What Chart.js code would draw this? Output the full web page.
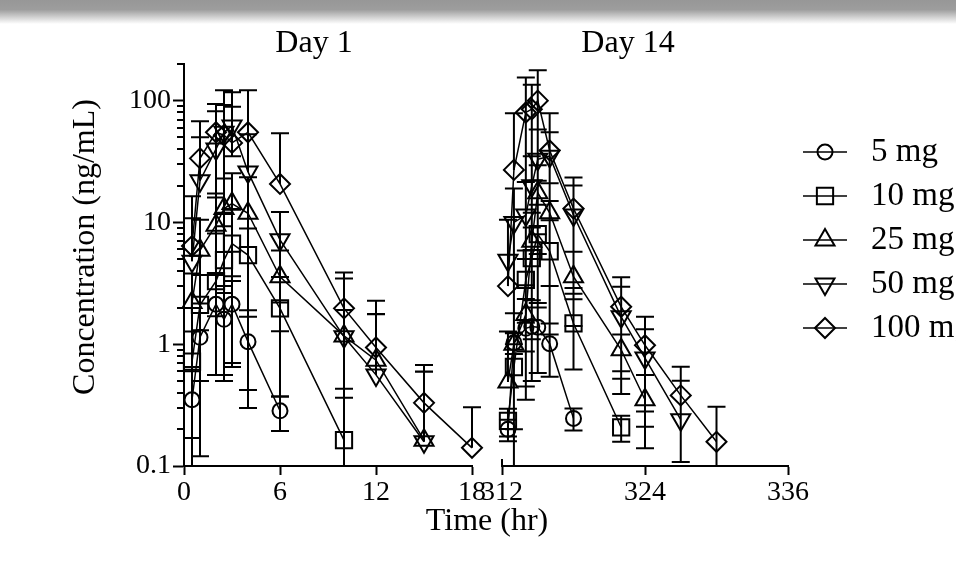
<!DOCTYPE html>
<html>
<head>
<meta charset="utf-8">
<title>Plasma concentration – Day 1 / Day 14</title>
<script src="https://cdn.jsdelivr.net/npm/chart.js@4.4.1/dist/chart.umd.min.js"></script>
<style>
  html, body { margin: 0; padding: 0; background: #fff; }
  body { position: relative; width: 956px; height: 562px; overflow: hidden;
         font-family: 'Liberation Serif', 'Times New Roman', serif; color: #000; }
  .top-shade { position: absolute; left: 0; top: 0; width: 956px; height: 24px;
               background: linear-gradient(#979797 0%, #9d9d9d 40%, #ffffff 100%); }
  .panel { position: absolute; top: 0; height: 562px; }
  #panel-d1  { left: 0;     width: 500px; }
  #panel-d14 { left: 480px; width: 476px; }
  .x-title { position: absolute; left: 287px; width: 400px; top: 501px;
             text-align: center; font-size: 32px; }
</style>
</head>
<body>
<div class="top-shade"></div>
<div class="panel" id="panel-d1"><canvas id="d1"></canvas></div>
<div class="panel" id="panel-d14"><canvas id="d14"></canvas></div>
<div class="x-title">Time (hr)</div>

<script>
/* ── Data (mean ± SD, ng/mL) ───────────────────────────────────────────── */
const DOSES = ['5 mg', '10 mg', '25 mg', '50 mg', '100 mg'];

const DAY1_HR  = [0.5, 1, 2, 2.5, 3, 4, 6, 10, 12, 15, 18];
const DAY14_HR = [312.5, 313, 314, 314.5, 315, 316, 318, 322, 324, 327, 330];

// Day 1
const d1Mean5    = [0.35, 1.14, 2.13, 1.6, 2.13, 1.05, 0.284, null, null, null, null];
const d1Sd5      = [0.3, 1.02, 1.57, 1.04, 1.48, 0.63, 0.09, null, null, null, null];
const d1Mean10   = [0.72, 2.1, 3.3, 4.9, 6.7, 5.4, 1.97, 0.163, null, null, null];
const d1Sd10     = [0.55, 1.6, 4.8, 4.4, 6.0, 3.5, 1.6, 0.2, null, null, null];
const d1Mean25   = [2.2, 5.9, 9.5, 13, 14.3, 11.9, 3.58, 1.17, 0.74, 0.163, null];
const d1Sd25     = [1.6, 4.6, 7.8, 10, 11, 11.6, 2.3, 0.74, 1.03, 0.43, null];
const d1Mean50   = [4.8, 22, 40, 55, 62, 26, 7.2, 1.15, 0.56, 0.158, null];
const d1Sd50     = [6, 28, 42, 67, 27, 27, 5.0, 2.32, 1.2, 0.44, null];
const d1Mean100  = [6.4, 33.6, 55, 52, 45, 55, 20.7, 1.97, 0.94, 0.33, 0.141];
const d1Sd100    = [10, 34, 39, 40, 72, 67, 33.2, 1.92, 1.34, 0.344, 0.162];

// Day 14
const d14Mean5   = [0.2, 1.03, 1.35, 1.4, 1.38, 1.01, 0.246, null, null, null, null];
const d14Sd5     = [0.04, 0.2, 1.0, 0.9, 0.8, 0.47, 0.05, null, null, null, null];
const d14Mean10  = [0.235, 0.65, 3.37, 5.1, 8.0, 5.8, 1.48, 0.208, null, null, null];
const d14Sd10    = [0.06, 0.6, 2.5, 4.0, 6.0, 4.6, 0.86, 0.05, null, null, null];
const d14Mean25  = [0.49, 1.0, 1.75, 7.0, 17.5, 12, 3.58, 0.9, 0.35, null, null];
const d14Sd25    = [0.78, 0.8, 1.3, 5.0, 12, 9.0, 2.17, 0.3, 0.21, null, null];
const d14Mean50  = [4.9, 10, 11.5, 20, 33, 35, 11.5, 1.68, 0.77, 0.24, null];
const d14Sd50    = [5.6, 9, 10, 15, 25, 20, 8.6, 1.29, 0.56, 0.262, null];
const d14Mean100 = [3.0, 27, 80, 85, 100, 39, 13, 2.03, 0.98, 0.38, 0.158];
const d14Sd100   = [7.5, 52, 75, 50, 78, 40, 10.4, 1.51, 0.7, 0.272, 0.149];

// Axes
const Y_TICKS   = [0.1, 1, 10, 100];
const Y_LABELS  = ['0.1', '1', '10', '100'];
const Y_MIN = 0.1, Y_MAX = 200;
const X1_TICKS  = [0, 6, 12, 18];
const X14_TICKS = [312, 324, 336];

/* ── Look ──────────────────────────────────────────────────────────────── */
const FONT = "'Liberation Serif', 'Times New Roman', serif";
const MARKERS = [
  { pointStyle: 'circle',   radius: 7.5,  rotation: 0 },
  { pointStyle: 'rect',     radius: 11.5, rotation: 0 },
  { pointStyle: 'triangle', radius: 11,   rotation: 0 },
  { pointStyle: 'triangle', radius: 11,   rotation: 180 },
  { pointStyle: 'rectRot',  radius: 10,   rotation: 0 },
];

Chart.defaults.font.family = FONT;
Chart.defaults.color = '#000';

// minor log ticks 2..9 per decade
const Y_MINOR = Y_TICKS.flatMap(d => [2, 3, 4, 5, 6, 7, 8, 9].map(k => k * d)).filter(v => v <= Y_MAX);

function points(times, means, sds) {
  return times.map((t, i) => ({ x: t, y: means[i], sd: sds[i] })).filter(p => p.y != null);
}

function datasets(times, means, sds) {
  return DOSES.map((label, i) => ({
    label,
    data: points(times, means[i], sds[i]),
    borderColor: '#000',
    borderWidth: 1.5,
    backgroundColor: 'rgba(0,0,0,0)',
    pointStyle: MARKERS[i].pointStyle,
    pointRadius: MARKERS[i].radius,
    pointRotation: MARKERS[i].rotation,
    pointBorderWidth: 2,
    pointBorderColor: '#000',
    pointBackgroundColor: 'rgba(0,0,0,0)',
    tension: 0,
    clip: false,
  }));
}

/* ── Plugins ───────────────────────────────────────────────────────────── */
const errorBars = {
  id: 'errorBars',
  afterDatasetsDraw(chart, args, opts) {
    const { ctx, chartArea: a, scales: { x, y } } = chart;
    const half = opts.capWidth / 2;
    ctx.save();
    ctx.beginPath();
    ctx.rect(a.left - half, a.top, a.right - a.left + 2 * half, a.bottom - a.top);
    ctx.clip();
    ctx.strokeStyle = '#000';
    ctx.lineWidth = opts.lineWidth;
    ctx.beginPath();
    chart.data.datasets.forEach(ds => {
      ds.data.forEach(p => {
        if (!p.sd) return;
        const px = x.getPixelForValue(p.x);
        const py = y.getPixelForValue(p.y);
        const hi = y.getPixelForValue(p.y + p.sd);
        ctx.moveTo(px, py); ctx.lineTo(px, hi);
        ctx.moveTo(px - half, hi); ctx.lineTo(px + half, hi);
        const low = p.y - p.sd;
        if (low > 0) {
          const lo = y.getPixelForValue(low);
          ctx.moveTo(px, py); ctx.lineTo(px, lo);
          ctx.moveTo(px - half, lo); ctx.lineTo(px + half, lo);
        }
      });
    });
    ctx.stroke();
    ctx.restore();
  }
};

// short ticks between the labelled decades + y title placed like the original
const logAxisExtras = {
  id: 'logAxisExtras',
  afterDraw(chart, args, opts) {
    const y = chart.scales.y;
    const { ctx, chartArea: a } = chart;
    ctx.save();
    ctx.strokeStyle = '#000';
    ctx.lineWidth = opts.lineWidth;
    ctx.beginPath();
    Y_MINOR.forEach(v => {
      const py = Math.round(y.getPixelForValue(v));
      ctx.moveTo(a.left - opts.length, py);
      ctx.lineTo(a.left, py);
    });
    ctx.stroke();

    ctx.translate(opts.titleX, (a.top + a.bottom) / 2 + opts.titleShift);
    ctx.rotate(-Math.PI / 2);
    ctx.font = `${opts.titleSize}px ${FONT}`;
    ctx.fillStyle = '#000';
    ctx.textAlign = 'center';
    ctx.textBaseline = 'middle';
    ctx.fillText(opts.title, 0, 0);
    ctx.restore();
  }
};

const panelTitle = {
  id: 'panelTitle',
  afterDraw(chart, args, opts) {
    const { ctx, chartArea: a } = chart;
    ctx.save();
    ctx.font = `${opts.size}px ${FONT}`;
    ctx.fillStyle = '#000';
    ctx.textAlign = 'center';
    ctx.textBaseline = 'alphabetic';
    ctx.fillText(opts.text, (a.left + a.right) / 2 + opts.shift, opts.baseline);
    ctx.restore();
  }
};

const sideLegend = {
  id: 'sideLegend',
  afterDraw(chart, args, opts) {
    const { ctx, chartArea: a } = chart;
    ctx.save();
    ctx.strokeStyle = '#000';
    ctx.font = `${opts.size}px ${FONT}`;
    ctx.textBaseline = 'middle';
    chart.data.datasets.forEach((ds, i) => {
      const yy = opts.top + i * opts.rowGap;
      const x0 = a.right + opts.lineStart;
      const x1 = x0 + opts.lineLength;
      ctx.lineWidth = ds.borderWidth;
      ctx.beginPath(); ctx.moveTo(x0, yy); ctx.lineTo(x1, yy); ctx.stroke();
      ctx.fillStyle = 'rgba(0,0,0,0)';
      ctx.lineWidth = ds.pointBorderWidth;
      Chart.helpers.drawPoint(ctx, {
        pointStyle: ds.pointStyle, rotation: ds.pointRotation,
        radius: ds.pointRadius, borderWidth: ds.pointBorderWidth
      }, (x0 + x1) / 2, yy);
      ctx.fillStyle = '#000';
      ctx.fillText(ds.label, x1 + opts.textGap, yy);
    });
    ctx.restore();
  }
};

// Day 14 axis starts with a small cross tick (axis break look)
const breakTick = {
  id: 'breakTick',
  afterDraw(chart, args, opts) {
    const { ctx, chartArea: a } = chart;
    ctx.save();
    ctx.strokeStyle = '#000';
    ctx.lineWidth = 2;
    ctx.beginPath();
    ctx.moveTo(a.left, a.bottom - opts.up);
    ctx.lineTo(a.left, a.bottom);
    ctx.stroke();
    ctx.restore();
  }
};

/* ── Scales ────────────────────────────────────────────────────────────── */
function yAxis(show) {
  return {
    type: 'logarithmic',
    min: Y_MIN, max: Y_MAX,
    display: show,
    afterBuildTicks: s => { s.ticks = Y_TICKS.map(v => ({ value: v })); },
    afterFit: s => { if (show) s.width = 184; },
    border: { display: true, color: '#000', width: 2 },
    grid: { drawOnChartArea: false, drawTicks: true, tickLength: 11, tickWidth: 2, tickColor: '#000' },
    ticks: { color: '#000', font: { size: 28 }, padding: 2, callback: (v, i) => Y_LABELS[i] },
    title: { display: false }
  };
}

function xAxis(min, max, tickVals) {
  return {
    type: 'linear',
    min, max,
    afterBuildTicks: s => { s.ticks = tickVals.map(v => ({ value: v })); },
    afterFit: s => { s.height = 96; },
    border: { display: true, color: '#000', width: 2 },
    grid: { drawOnChartArea: false, drawTicks: true, tickLength: 9, tickWidth: 2, tickColor: '#000' },
    ticks: { color: '#000', font: { size: 28 }, padding: 1, maxRotation: 0, autoSkip: false,
             callback: v => String(v) }
  };
}

const base = {
  animation: false,
  responsive: true,
  maintainAspectRatio: false,
  events: [],
};

/* ── Day 1 ─────────────────────────────────────────────────────────────── */
new Chart(document.getElementById('d1'), {
  type: 'line',
  data: {
    datasets: datasets(DAY1_HR,
      [d1Mean5, d1Mean10, d1Mean25, d1Mean50, d1Mean100],
      [d1Sd5, d1Sd10, d1Sd25, d1Sd50, d1Sd100])
  },
  options: {
    ...base,
    layout: { padding: { top: 64, right: 28, left: 0, bottom: 0 } },
    scales: { x: xAxis(0, 18, X1_TICKS), y: yAxis(true) },
    plugins: {
      legend: { display: false },
      tooltip: { enabled: false },
      errorBars: { capWidth: 18, lineWidth: 2 },
      logAxisExtras: { length: 7, lineWidth: 2, title: 'Concentration (ng/mL)',
                       titleSize: 32, titleX: 86, titleShift: -18 },
      panelTitle: { text: 'Day 1', size: 32, shift: -14, baseline: 52 }
    }
  },
  plugins: [errorBars, logAxisExtras, panelTitle]
});

/* ── Day 14 ────────────────────────────────────────────────────────────── */
new Chart(document.getElementById('d14'), {
  type: 'line',
  data: {
    datasets: datasets(DAY14_HR,
      [d14Mean5, d14Mean10, d14Mean25, d14Mean50, d14Mean100],
      [d14Sd5, d14Sd10, d14Sd25, d14Sd50, d14Sd100])
  },
  options: {
    ...base,
    layout: { padding: { top: 64, right: 168, left: 22, bottom: 0 } },
    scales: { x: xAxis(312, 336, X14_TICKS), y: yAxis(false) },
    plugins: {
      legend: { display: false },
      tooltip: { enabled: false },
      errorBars: { capWidth: 18, lineWidth: 2 },
      breakTick: { up: 7 },
      panelTitle: { text: 'Day 14', size: 32, shift: -17, baseline: 52 },
      sideLegend: { size: 33, top: 152, rowGap: 44, lineStart: 15, lineLength: 44, textGap: 24 }
    }
  },
  plugins: [errorBars, breakTick, panelTitle, sideLegend]
});
</script>
</body>
</html>
